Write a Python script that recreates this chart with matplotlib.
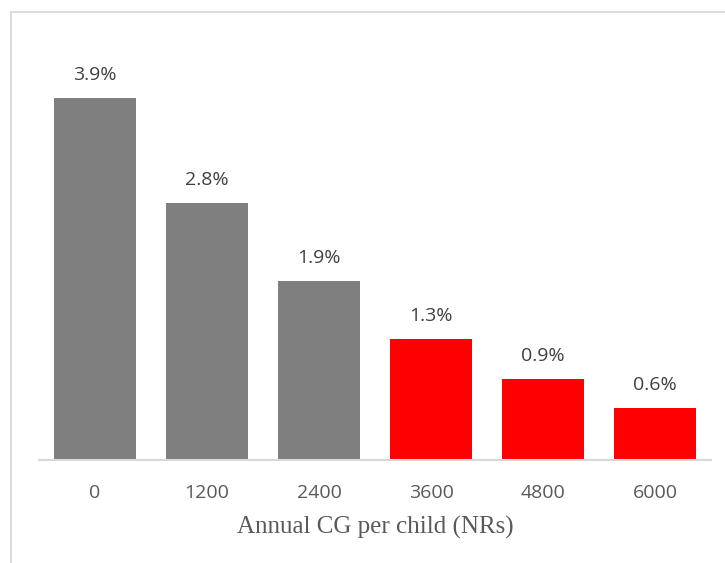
import matplotlib.pyplot as plt
from matplotlib.patches import Rectangle

# Data
categories = ["0", "1200", "2400", "3600", "4800", "6000"]
shares = [3.90, 2.77, 1.93, 1.30, 0.87, 0.56]  # percent
bar_colors = ["#7f7f7f", "#7f7f7f", "#7f7f7f", "#ff0000", "#ff0000", "#ff0000"]
x_title = "Annual CG per child (NRs)"

W, H = 725, 563
fig = plt.figure(figsize=(W / 100, H / 100), dpi=100)

# light outer chart border (runs off the right and bottom edges)
fig.patches.append(Rectangle((11 / W, -0.1), 1.2, 1 - 12 / H + 0.1,
                             transform=fig.transFigure, fill=False,
                             edgecolor="#d9d9d9", linewidth=1.3))

ax = fig.add_axes([39 / W, 1 - 460 / H, 672 / W, 417.6 / H])
pos = range(len(categories))
ax.bar(pos, shares, width=0.73, color=bar_colors)
ax.set_xlim(-0.5, len(categories) - 0.5)
ax.set_ylim(0, 4.5)

for x, v in zip(pos, shares):
    ax.annotate(f"{v:.1f}%", (x, v), xytext=(0, 10), textcoords="offset points",
                ha="center", va="bottom", fontsize=14, color="#404040",
                family="Open Sans")

for s in ["top", "right", "left"]:
    ax.spines[s].set_visible(False)
ax.spines["bottom"].set_color("#d9d9d9")
ax.spines["bottom"].set_linewidth(1.5)
ax.set_yticks([])
ax.set_xticks(list(pos))
ax.set_xticklabels(categories, fontsize=14, color="#595959", family="Open Sans")
ax.tick_params(axis="x", length=0, pad=17)
ax.set_xlabel(x_title, fontsize=18, color="#595959", family="Liberation Serif",
              labelpad=10)

fig.savefig("out.png", dpi=100)
